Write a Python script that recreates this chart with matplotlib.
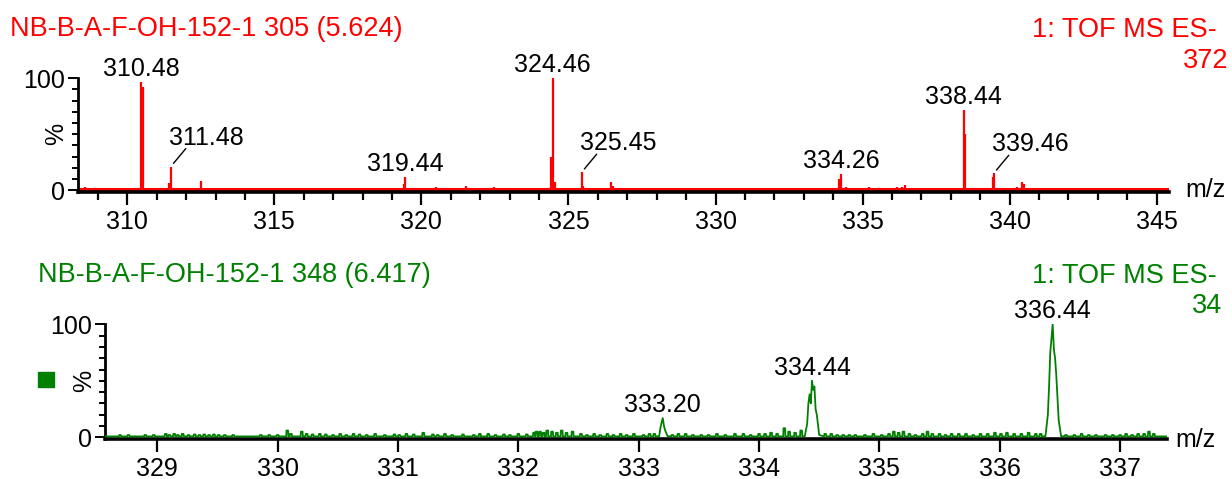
import matplotlib
matplotlib.use("Agg")
import matplotlib.pyplot as plt
from matplotlib.patches import Rectangle
from matplotlib.ticker import FixedLocator, NullFormatter

plt.rcParams['font.family'] = ['Liberation Sans', 'DejaVu Sans']

RED = '#ff0000'
GREEN = '#008000'
W, H = 1232, 479

# ---------------- spectrum 1: scan 305 ----------------
top_title = "NB-B-A-F-OH-152-1 305 (5.624)"
top_mode = "1: TOF MS ES-"
top_count = "372"
top_label_mz = [310.48, 311.48, 319.44, 324.46, 325.45, 334.26, 338.44, 339.46]
top_label_pct = [97, 21, 12, 100, 16, 14, 72, 15]
top_leader = [False, True, False, False, True, False, False, True]
top_other_mz = [308.55, 309.22, 310.38, 310.52, 310.57, 311.42, 312.50, 313.18,
                313.45, 316.22, 316.45, 317.48, 319.40, 320.50, 321.52, 322.47,
                324.40, 324.55, 325.50, 326.18, 326.45, 326.50, 327.47, 332.40,
                333.42, 334.21, 334.44, 335.22, 336.18, 336.33, 336.45, 338.49,
                339.16, 339.42, 340.24, 340.42, 340.48, 341.44]
top_other_pct = [2.5, 1.5, 2, 92, 2, 6, 8, 2,
                 2, 2, 2, 2, 5, 2.5, 4, 2.5,
                 30, 7, 4, 2, 7, 4, 2, 2,
                 2, 10, 3, 2.5, 2.5, 2.5, 4.5, 50,
                 2, 12, 3, 7.5, 5, 2]
top_xticks = [310, 315, 320, 325, 330, 335, 340, 345]
top_xminor = list(range(309, 346))
top_xlim = (308.324, 345.418)

# ---------------- spectrum 2: scan 348 ----------------
bot_title = "NB-B-A-F-OH-152-1 348 (6.417)"
bot_mode = "1: TOF MS ES-"
bot_count = "34"
bot_label_mz = [333.20, 334.44, 336.44]
bot_label_pct = [17, 50, 100]
# profile points around the labelled peaks
bot_peak_mz = [333.17, 333.18, 333.19, 333.21, 333.22, 333.24,
               334.38, 334.40, 334.41, 334.42, 334.43, 334.45, 334.46, 334.47, 334.48, 334.50,
               336.38, 336.40, 336.41, 336.42, 336.43, 336.45, 336.46, 336.47, 336.48, 336.49, 336.51]
bot_peak_pct = [1, 8, 13, 10, 6, 1,
                1, 12, 30, 38, 30, 42, 45, 25, 20, 2,
                1, 20, 45, 75, 88, 78, 70, 55, 35, 15, 1]
# small baseline spikes
bot_noise_mz = [328.69, 328.76, 328.90, 328.97, 329.07, 329.10, 329.14, 329.17, 329.21,
                329.26, 329.31, 329.35, 329.39, 329.43, 329.47, 329.51, 329.56, 329.63,
                329.86, 329.93, 330.00, 330.08, 330.11, 330.20, 330.24, 330.29, 330.35,
                330.40, 330.46, 330.52, 330.57, 330.63, 330.68, 330.74, 330.81, 330.89,
                330.97, 331.01, 331.07, 331.13, 331.21, 331.29, 331.33, 331.39, 331.45,
                331.54, 331.63, 331.68, 331.75, 331.81, 331.88, 331.93, 332.00, 332.07,
                332.13, 332.15, 332.18, 332.21, 332.24, 332.28, 332.32, 332.36, 332.40,
                332.45, 332.52, 332.57, 332.63, 332.68, 332.74, 332.79, 332.85, 332.90,
                332.96, 333.04, 333.09, 333.13, 333.28, 333.33, 333.39, 333.45, 333.52,
                333.58, 333.65, 333.72, 333.80, 333.87, 333.93, 334.00, 334.05, 334.10,
                334.15, 334.21, 334.25, 334.30, 334.35, 334.55, 334.60, 334.65, 334.70,
                334.75, 334.80, 334.88, 334.95, 335.02, 335.08, 335.12, 335.16, 335.20,
                335.25, 335.30, 335.36, 335.40, 335.44, 335.50, 335.55, 335.60, 335.66,
                335.72, 335.78, 335.84, 335.90, 335.96, 336.01, 336.06, 336.12, 336.18,
                336.24, 336.30, 336.34, 336.55, 336.62, 336.68, 336.74, 336.80, 336.88,
                336.94, 337.00, 337.05, 337.10, 337.15, 337.20, 337.24, 337.28]
bot_noise_pct = [2, 2, 2, 2, 3, 2, 3, 2, 3,
                 2, 2.5, 2, 2.5, 2, 2.5, 2, 2, 2,
                 2, 2, 2, 6, 3, 5, 3, 2.5, 3,
                 2.5, 2, 3, 2, 3, 2.5, 2, 3, 2,
                 2.5, 2, 3, 2.5, 4, 2.5, 2, 3, 2,
                 2.5, 2, 3, 3, 2, 2.5, 2, 3, 2.5,
                 4, 5, 5, 4, 6, 5, 4, 6, 4,
                 5, 3, 2, 3, 2, 3, 2, 3, 2,
                 3, 2, 3, 3, 2, 3, 3, 2, 2,
                 2, 3, 2, 3, 3, 2, 3, 3, 4,
                 3, 8, 5, 4, 6, 3, 3, 2, 2,
                 2, 2, 2, 3, 2, 3, 5, 4, 5,
                 3, 2, 3, 5, 3, 3, 2, 3, 3,
                 3, 2, 3, 3, 4, 3, 4, 3, 3,
                 4, 3, 3, 2, 2, 3, 2, 2, 2,
                 2, 2, 3, 2, 3, 3, 5, 3]
bot_xticks = [329, 330, 331, 332, 333, 334, 335, 336, 337]
bot_xlim = (328.565, 337.39)
BASE = 0.8

fig = plt.figure(figsize=(W / 100, H / 100), dpi=100)


def px_axes(left, right, top, bottom):
    return fig.add_axes([left / W, 1 - bottom / H, (right - left) / W, (bottom - top) / H])


def style_axes(ax, xlim, major, minor, ylabel_x):
    ax.set_xlim(*xlim)
    ax.set_ylim(-1.5, 100)
    for s in ('top', 'right'):
        ax.spines[s].set_visible(False)
    ax.spines['bottom'].set_linewidth(2.6)
    ax.spines['left'].set_linewidth(2.0)
    ax.spines['left'].set_bounds(-1.5, 100)
    ax.set_xticks(major)
    ax.set_xticklabels([str(t) for t in major])
    if minor:
        ax.xaxis.set_minor_locator(FixedLocator(minor))
        ax.xaxis.set_minor_formatter(NullFormatter())
    ax.set_yticks([0, 100])
    ax.set_yticklabels(['0', '100'])
    ax.yaxis.set_minor_locator(FixedLocator(list(range(10, 100, 10))))
    ax.tick_params(axis='x', which='major', length=9, width=1.6, pad=4,
                   labelsize=18, direction='out')
    ax.tick_params(axis='x', which='minor', length=6, width=1.6, direction='out')
    ax.tick_params(axis='y', which='major', length=7, width=1.4, pad=2,
                   labelsize=18, direction='out')
    ax.tick_params(axis='y', which='minor', length=4.5, width=1.4, direction='out')
    ax.patch.set_alpha(0)
    ax.text(ylabel_x, 50, '%', rotation=90, ha='center', va='center',
            fontsize=18, transform=ax.get_yaxis_transform())


def label_peaks(ax, mzs, pcts, leaders):
    for mz, p, lead in zip(mzs, pcts, leaders):
        txt = f"{mz:.2f}"
        if lead:
            ax.annotate('', xy=(mz, p), xytext=(15, 18), textcoords='offset pixels',
                        xycoords='data',
                        arrowprops=dict(arrowstyle='-', lw=1.0, color='black',
                                        shrinkA=0, shrinkB=3))
            ax.annotate(txt, xy=(mz, p), xytext=(-2, 22), textcoords='offset pixels',
                        ha='left', va='baseline', fontsize=18, annotation_clip=False)
        else:
            ax.annotate(txt, xy=(mz, p), xytext=(0, 6), textcoords='offset pixels',
                        ha='center', va='baseline', fontsize=18, annotation_clip=False)


# ---------------- top panel ----------------
ax1 = px_axes(78, 1169, 78.3, 191.7)
ax1.plot(top_xlim, [BASE, BASE], color=RED, lw=2.2, solid_capstyle='butt', zorder=2)
ax1.vlines(top_other_mz, 0, top_other_pct, color=RED, lw=1.6, zorder=3)
ax1.vlines(top_label_mz, 0, top_label_pct, color=RED, lw=1.6, zorder=3)
style_axes(ax1, top_xlim, top_xticks, top_xminor, -0.02)
label_peaks(ax1, top_label_mz, top_label_pct, top_leader)

# ---------------- bottom panel ----------------
ax2 = px_axes(105, 1167, 324.3, 439.0)
pts = [(bot_xlim[0], BASE), (bot_xlim[1], BASE)]
pts += list(zip(bot_peak_mz, bot_peak_pct))
pts += list(zip(bot_label_mz, bot_label_pct))
for m, h in zip(bot_noise_mz, bot_noise_pct):
    pts += [(m - 0.009, BASE), (m - 0.007, h), (m + 0.007, h), (m + 0.009, BASE)]
pts.sort()
ax2.plot([p[0] for p in pts], [p[1] for p in pts], color=GREEN, lw=1.3, zorder=3)
style_axes(ax2, bot_xlim, bot_xticks, None, -0.02)
label_peaks(ax2, bot_label_mz, bot_label_pct, [False] * 3)

# ---------------- header texts ----------------
fig.text(10 / W, 1 - 29 / H, top_title, color=RED, fontsize=19.5, ha='left', va='center')
fig.text(1217 / W, 1 - 30 / H, top_mode, color=RED, fontsize=19.5, ha='right', va='center')
fig.text(1228 / W, 1 - 61 / H, top_count, color=RED, fontsize=19.5, ha='right', va='center')
fig.text(38 / W, 1 - 275 / H, bot_title, color=GREEN, fontsize=19.5, ha='left', va='center')
fig.text(1217 / W, 1 - 276 / H, bot_mode, color=GREEN, fontsize=19.5, ha='right', va='center')
fig.text(1222 / W, 1 - 306 / H, bot_count, color=GREEN, fontsize=19.5, ha='right', va='center')
fig.text(1185 / W, 1 - 190 / H, 'm/z', fontsize=18, ha='left', va='center')
fig.text(1175 / W, 1 - 440 / H, 'm/z', fontsize=18, ha='left', va='center')
fig.patches.append(Rectangle((38 / W, 1 - 387 / H), 16 / W, 15 / H,
                             transform=fig.transFigure, color=GREEN, figure=fig))

fig.savefig('out.png', dpi=100, facecolor='white')
